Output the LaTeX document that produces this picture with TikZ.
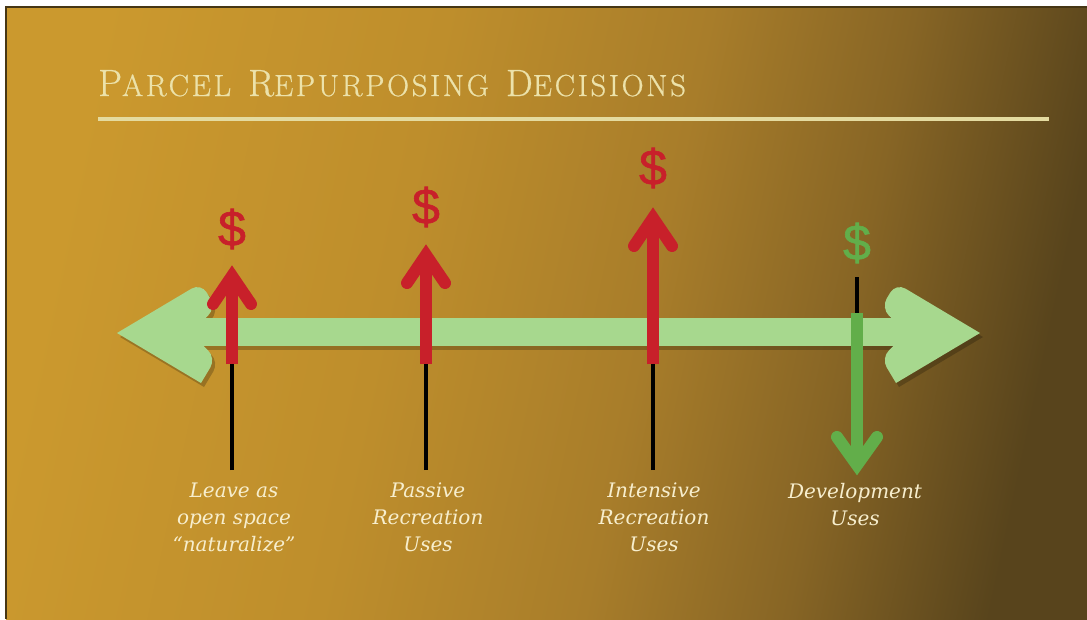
\documentclass[tikz,border=0pt]{standalone}
\usepackage{fontspec}
\newfontfamily\dollarfont[FakeBold=1.2]{Liberation Sans}
\newfontfamily\labelfont{DejaVu Serif}
\newfontfamily\titlefont[LetterSpace=9, FakeBold=0.7]{Latin Modern Roman}
\newcommand{\tcapbig}[1]{{\fontsize{38}{38}\selectfont #1}}
\newcommand{\tcapsmall}[1]{{\fontsize{30.5}{38}\selectfont #1}}
\newcommand{\tgap}{\hspace*{17pt}}
\usetikzlibrary{calc}

\definecolor{bgA}{RGB}{203,153,46}
\definecolor{bgB}{RGB}{190,142,44}
\definecolor{bgC}{RGB}{168,125,42}
\definecolor{bgD}{RGB}{135,101,37}
\definecolor{bgE}{RGB}{88,68,28}
\definecolor{framebrown}{RGB}{70,54,20}
\definecolor{titlecream}{RGB}{236,226,170}
\definecolor{rulecream}{RGB}{228,219,160}
\definecolor{labelcream}{RGB}{247,238,205}
\definecolor{spanGreen}{RGB}{167,216,142}
\definecolor{upRed}{RGB}{200,32,42}
\definecolor{downGreen}{RGB}{98,174,74}

% visible part of a TikZ shading runs from 25bp to 75bp
\pgfdeclarehorizontalshading{slidebg}{100bp}{%
  color(0bp)=(bgA); color(25bp)=(bgA); color(42bp)=(bgB); color(55bp)=(bgC);
  color(65bp)=(bgD); color(75bp)=(bgE); color(100bp)=(bgE)}

\tikzset{
  label text/.style={font=\labelfont\itshape\fontsize{20}{27}\selectfont, text=labelcream,
    align=center, inner sep=0pt, anchor=north},
  dollar/.style={font=\dollarfont\fontsize{50}{50}\selectfont, inner sep=0pt},
  shaft/.style={line width=12pt, line cap=butt},
  chevron/.style={line width=12pt, line cap=round, line join=miter},
  stem/.style={line width=4.5pt, black},
}

\begin{document}
\begin{tikzpicture}[x=1pt, y=-1pt]
  % canvas and slide
  \useasboundingbox (0,0) rectangle (1087,619);
  \fill[white] (0,0) rectangle (1087,619);
  \shade[shading=slidebg, shading angle=-12] (6,7) rectangle (1087,619);
  \draw[framebrown, line width=1.2pt] (6,619) -- (6,7) -- (1087,7);

  % title, set in hand-made small capitals
  \node (title) [anchor=base west, inner sep=0pt, text=titlecream, font=\titlefont]
        at (98,96) {\tcapbig{P}\tcapsmall{ARCEL}\tgap\tcapbig{R}\tcapsmall{EPURPOSING}\tgap\tcapbig{D}\tcapsmall{ECISIONS}};
  \draw[rulecream, line width=4pt] (98,119) -- (1049,119);

  % double-headed span arrow: soft shadow, then arrow
  \foreach \dx/\dy/\col/\op in {3/4/black/0.22, 0/0/spanGreen/1} {
    \begin{scope}[shift={(\dx,\dy)}]
      \fill[\col, opacity=\op] (190,318) rectangle (907,346);
      \fill[\col, opacity=\op] (117,333) [rounded corners=11pt] -- (201,283)
         -- (216,308) -- (190,333) -- (216,358) [sharp corners] -- (201,383)
         [sharp corners] -- cycle;
      \fill[\col, opacity=\op] (980,333) [rounded corners=11pt] -- (896,283)
         -- (881,308) -- (907,333) -- (881,358) [sharp corners] -- (896,383)
         [sharp corners] -- cycle;
    \end{scope}
  }

  % upward cost arrows
  \foreach \n/\x/\tip/\dol in {a/232/264/229, b/426/243/207, c/653/206/168} {
    \coordinate (base\n) at (\x,470);
    \coordinate (mid\n) at (\x,364);
    \coordinate (tip\n) at (\x,\tip);
    \node[dollar, text=upRed] (dol\n) at (\x,\dol) {\$};
    \draw[stem] (base\n) -- (mid\n);
    \draw[shaft, upRed] (mid\n) -- ($(tip\n)+(0,14)$);
    \draw[chevron, upRed] ($(tip\n)+(-19,40)$) -- ($(tip\n)+(0,12)$) -- ($(tip\n)+(19,40)$);
  }

  % downward arrow
  \node[dollar, text=downGreen] (dold) at (857,243) {\$};
  \coordinate (stemd) at (857,277);
  \coordinate (midd) at (857,313);
  \coordinate (tipd) at (857,477);
  \draw[stem] (stemd) -- (midd);
  \draw[shaft, downGreen] (midd) -- ($(tipd)+(0,-14)$);
  \draw[chevron, downGreen] ($(tipd)+(-20,-40)$) -- ($(tipd)+(0,-12)$) -- ($(tipd)+(20,-40)$);

  % option labels
  \node[label text] (lbla) at (234,483) {Leave as\\open space\\“naturalize”};
  \node[label text] (lblb) at (428,483) {Passive\\Recreation\\Uses};
  \node[label text] (lblc) at (654,483) {Intensive\\Recreation\\Uses};
  \node[label text] (lbld) at (855,483) {Development\\Uses};
\end{tikzpicture}
\end{document}
